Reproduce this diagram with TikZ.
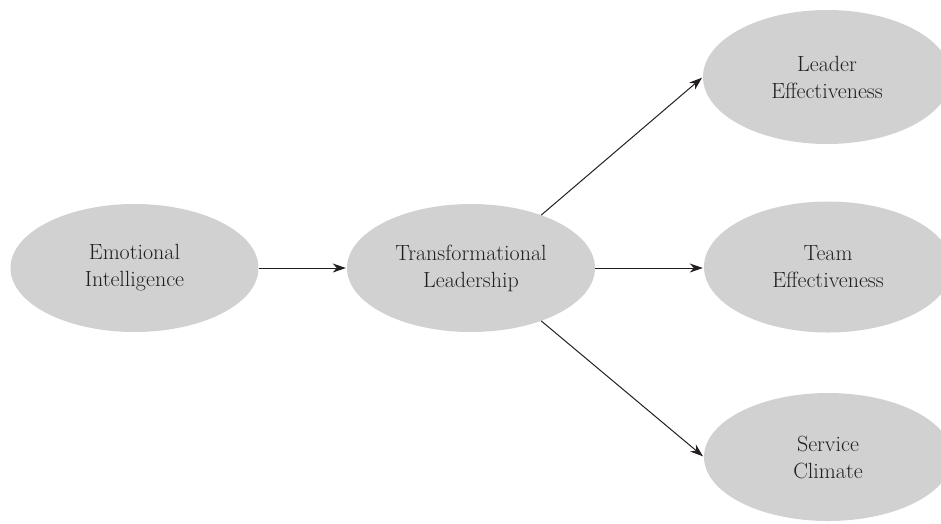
\documentclass[tikz,border=0pt]{standalone}
\usetikzlibrary{shapes.geometric,arrows.meta}
\definecolor{ovalfill}{HTML}{D1D1D1}
\definecolor{inkgray}{HTML}{231F20}
\begin{document}
\begin{tikzpicture}[x=1pt,y=-1pt,
  oval/.style={ellipse,fill=ovalfill,draw=none,minimum width=248pt,minimum height=128pt,
    inner sep=0pt,align=center,text=inkgray,font=\fontsize{22}{27}\selectfont},
  link/.style={draw=inkgray,line width=1pt,-{Stealth[length=13pt,width=9pt,inset=4pt]},shorten >=1pt}]
\useasboundingbox (0,0) rectangle (941,523);
\begin{scope}
\clip (0,0) rectangle (941,523);
\node[oval] (ei) at (134.5,268) {Emotional\\Intelligence};
\node[oval] (tl) at (471,268) {Transformational\\Leadership};
\node[oval,minimum height=134pt] (le) at (827,77) {Leader\\Effectiveness};
\node[oval,minimum height=131pt] (te) at (828,267) {Team\\Effectiveness};
\node[oval] (sc) at (828,457) {Service\\Climate};
\end{scope}
\draw[link] (ei.east) -- (tl.west);
\draw[link] (tl.east) -- (tl.east -| te.west);
\draw[link] (tl.37) -- (le.west);
\draw[link] (tl.-37) -- (sc.west);
\end{tikzpicture}
\end{document}
